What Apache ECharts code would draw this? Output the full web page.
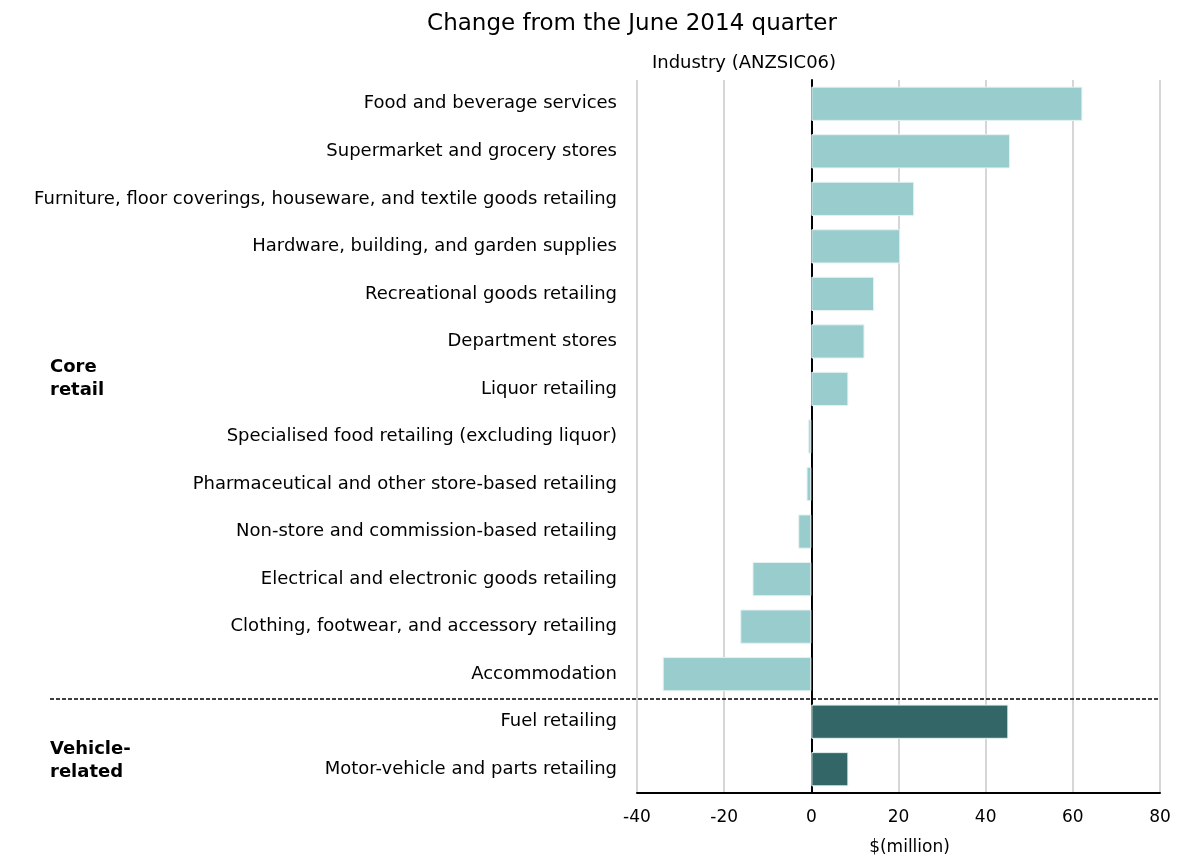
<!DOCTYPE html>
<html>
<head>
<meta charset="utf-8">
<script src="https://cdn.jsdelivr.net/npm/echarts@6/dist/echarts.min.js"></script>
<style>
  html, body { margin: 0; padding: 0; background: #fff; }
  #chart { width: 1177px; height: 859px; }
</style>
</head>
<body>
<div id="chart"></div>
<script>
// industries, top to bottom
const industries = [
  'Food and beverage services',
  'Supermarket and grocery stores',
  'Furniture, floor coverings, houseware, and textile goods retailing',
  'Hardware, building, and garden supplies',
  'Recreational goods retailing',
  'Department stores',
  'Liquor retailing',
  'Specialised food retailing (excluding liquor)',
  'Pharmaceutical and other store-based retailing',
  'Non-store and commission-based retailing',
  'Electrical and electronic goods retailing',
  'Clothing, footwear, and accessory retailing',
  'Accommodation',
  'Fuel retailing',
  'Motor-vehicle and parts retailing'
];
// $(million) change from the June 2014 quarter
const changes = [62.2, 45.6, 23.6, 20.4, 14.4, 12.2, 8.5, -0.7, -1.1, -3.0, -13.5, -16.3, -34.1, 45.2, 8.5];
// which group each industry belongs to
const groups = ['core', 'core', 'core', 'core', 'core', 'core', 'core', 'core', 'core', 'core', 'core', 'core', 'core', 'vehicle', 'vehicle'];
const groupLabels = {core: 'Core\nretail', vehicle: 'Vehicle-\nrelated'};
const groupColors = {core: '#99cccc', vehicle: '#336666'};

const font = '"DejaVu Sans", Verdana, sans-serif';
const myChart = echarts.init(document.getElementById('chart'));

myChart.setOption({
  animation: false,
  title: [
    {
      text: 'Change from the June 2014 quarter',
      left: 627, top: 8, textAlign: 'center',
      textStyle: {fontFamily: font, fontSize: 23, fontWeight: 'normal', color: '#000'}
    },
    {
      text: 'Industry (ANZSIC06)',
      left: 739, top: 49, textAlign: 'center',
      textStyle: {fontFamily: font, fontSize: 18, fontWeight: 'normal', color: '#000'}
    }
  ],
  grid: {left: 637, right: 17, top: 80, bottom: 66, containLabel: false, outerBoundsMode: 'none'},
  xAxis: {
    type: 'value',
    min: -40, max: 80, interval: 20,
    name: '$(million)',
    nameLocation: 'middle',
    nameGap: 46,
    nameTextStyle: {fontFamily: font, fontSize: 17, color: '#000', padding: [0, 0, 0, 22]},
    axisLine: {show: true, lineStyle: {color: '#000', width: 2}},
    axisTick: {show: false},
    axisLabel: {fontFamily: font, fontSize: 17, color: '#000', margin: 16},
    splitLine: {show: true, lineStyle: {color: '#d6d6d6', width: 2}}
  },
  yAxis: {
    type: 'category',
    data: industries,
    inverse: true,
    axisLine: {show: true, onZero: true, lineStyle: {color: '#000', width: 2}},
    axisTick: {show: false},
    axisLabel: {fontFamily: font, fontSize: 18, color: '#000', margin: 20},
    splitLine: {show: false}
  },
  series: [{
    type: 'bar',
    barCategoryGap: '28%',
    data: changes.map((v, i) => ({
      value: v,
      itemStyle: {color: groupColors[groups[i]]}
    })),
    itemStyle: {borderColor: '#e6f2f2', borderWidth: 1}
  }]
});

// draw the group divider and the group names from the axis scales
function drawGroups() {
  const xRight = myChart.convertToPixel({xAxisIndex: 0}, 80);
  const labelShift = {core: -33, vehicle: -8};
  const elements = [];
  let start = 0;
  for (let i = 1; i <= groups.length; i++) {
    if (i === groups.length || groups[i] !== groups[start]) {
      const yA = myChart.convertToPixel({yAxisIndex: 0}, start);
      const yB = myChart.convertToPixel({yAxisIndex: 0}, i - 1);
      elements.push({
        type: 'text',
        left: 50,
        top: (yA + yB) / 2 + labelShift[groups[start]],
        style: {text: groupLabels[groups[start]], font: 'bold 18px ' + font, fill: '#000', lineHeight: 23}
      });
      if (i < groups.length) {
        const yLine = (yB + myChart.convertToPixel({yAxisIndex: 0}, i)) / 2 + 1;
        elements.push({
          type: 'line',
          shape: {x1: 50, y1: yLine, x2: xRight, y2: yLine},
          style: {stroke: '#000', lineWidth: 1.5, lineDash: [4, 2]},
          z: 10
        });
      }
      start = i;
    }
  }
  myChart.setOption({graphic: elements});
}
drawGroups();
</script>
</body>
</html>
